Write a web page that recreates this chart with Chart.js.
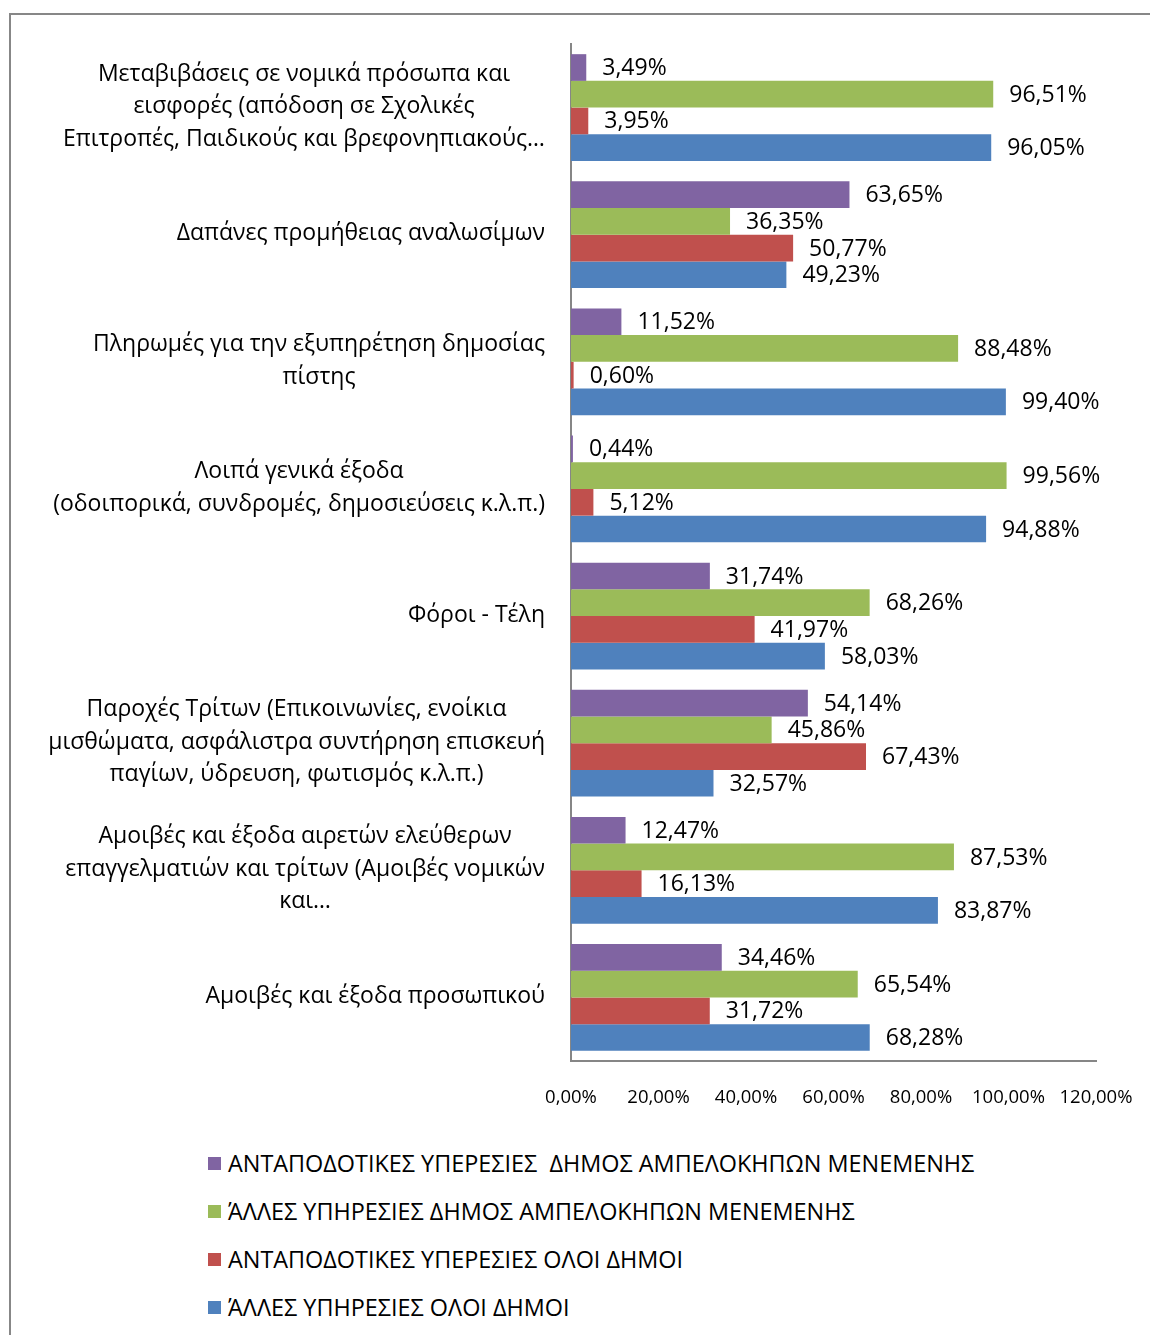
<!DOCTYPE html>
<html>
<head>
<meta charset="utf-8">
<title>Κατανομή δαπανών</title>
<script src="https://cdn.jsdelivr.net/npm/chart.js@4.4.1/dist/chart.umd.min.js"></script>
<style>
  html, body { margin: 0; padding: 0; background: #fff; overflow: hidden; }
  #page { position: relative; width: 1150px; height: 1335px; overflow: hidden; }
  #frame {
    position: absolute; left: 9px; top: 13px; width: 1300px; height: 1400px;
    border-left: 2px solid #878787; border-top: 2px solid #878787;
  }
  #chartBox { position: absolute; left: 0; top: 0; width: 1150px; height: 1130px; }
  #legend {
    position: absolute; left: 208px; top: 1139px;
    font-family: 'Open Sans', sans-serif; font-size: 23.4px; color: #000;
  }
  #legend .item { display: flex; align-items: center; height: 48px; white-space: pre; }
  #legend .box { width: 13px; height: 13px; margin-right: 7px; flex: none; }
</style>
</head>
<body>
<div id="page">
  <div id="frame"></div>
  <div id="chartBox"><canvas id="chartDapanes" width="1150" height="1130"></canvas></div>
  <div id="legend"></div>
</div>
<script>
// Κατηγορίες (από πάνω προς τα κάτω), σε γραμμές όπως στο πρωτότυπο
const categories = [
    ['Μεταβιβάσεις σε νομικά πρόσωπα και', 'εισφορές (απόδοση σε Σχολικές', 'Επιτροπές, Παιδικούς και βρεφονηπιακούς…'],
    ['Δαπάνες προμήθειας αναλωσίμων'],
    ['Πληρωμές για την εξυπηρέτηση δημοσίας', 'πίστης'],
    ['Λοιπά γενικά έξοδα', '(οδοιπορικά, συνδρομές, δημοσιεύσεις κ.λ.π.)'],
    ['Φόροι - Τέλη'],
    ['Παροχές Τρίτων (Επικοινωνίες, ενοίκια', 'μισθώματα, ασφάλιστρα συντήρηση επισκευή', 'παγίων, ύδρευση, φωτισμός κ.λ.π.)'],
    ['Αμοιβές και έξοδα αιρετών ελεύθερων', 'επαγγελματιών και τρίτων (Αμοιβές νομικών', 'και…'],
    ['Αμοιβές και έξοδα προσωπικού']
];

// Σειρές (τιμές σε %)
const antapodotikesAmpelokipon = [3.49, 63.65, 11.52, 0.44, 31.74, 54.14, 12.47, 34.46];
const allesAmpelokipon         = [96.51, 36.35, 88.48, 99.56, 68.26, 45.86, 87.53, 65.54];
const antapodotikesOloi        = [3.95, 50.77, 0.60, 5.12, 41.97, 67.43, 16.13, 31.72];
const allesOloi                = [96.05, 49.23, 99.40, 94.88, 58.03, 32.57, 83.87, 68.28];

const seriesNames = [
    'ΑΝΤΑΠΟΔΟΤΙΚΕΣ ΥΠΕΡΕΣΙΕΣ  ΔΗΜΟΣ ΑΜΠΕΛΟΚΗΠΩΝ ΜΕΝΕΜΕΝΗΣ',
    'ΆΛΛΕΣ ΥΠΗΡΕΣΙΕΣ ΔΗΜΟΣ ΑΜΠΕΛΟΚΗΠΩΝ ΜΕΝΕΜΕΝΗΣ',
    'ΑΝΤΑΠΟΔΟΤΙΚΕΣ ΥΠΕΡΕΣΙΕΣ ΟΛΟΙ ΔΗΜΟΙ',
    'ΆΛΛΕΣ ΥΠΗΡΕΣΙΕΣ ΟΛΟΙ ΔΗΜΟΙ'
];
const seriesColors = ['#8064A2', '#9BBB59', '#C0504D', '#4F81BD'];

// Άξονας τιμών
const xMin = 0;
const xMax = 120;
const xStep = 20;

const FONT = "'Open Sans', sans-serif";

function formatPct(v, decimals) {
    return v.toFixed(decimals).replace('.', ',') + '%';
}

// Ετικέτες τιμών δεξιά από κάθε μπάρα
const dataLabelsPlugin = {
    id: 'dataLabels',
    afterDatasetsDraw(chart) {
        const ctx = chart.ctx;
        ctx.save();
        ctx.font = '23px ' + FONT;
        ctx.fillStyle = '#000';
        ctx.textAlign = 'left';
        ctx.textBaseline = 'middle';
        chart.data.datasets.forEach((ds, di) => {
            const meta = chart.getDatasetMeta(di);
            meta.data.forEach((bar, i) => {
                ctx.fillText(formatPct(ds.data[i], 2), bar.x + 16, bar.y + 1);
            });
        });
        ctx.restore();
    }
};

// Ετικέτες κατηγοριών: μπλοκ στοιχισμένο δεξιά, γραμμές κεντραρισμένες
const categoryLabelsPlugin = {
    id: 'categoryLabels',
    afterDraw(chart) {
        const ctx = chart.ctx;
        const yScale = chart.scales.y;
        const rightEdge = chart.chartArea.left - 26;
        const lineH = 32.5;
        ctx.save();
        ctx.font = '23px ' + FONT;
        ctx.fillStyle = '#000';
        ctx.textAlign = 'center';
        ctx.textBaseline = 'middle';
        chart.data.labels.forEach((lines, i) => {
            const yc = yScale.getPixelForValue(i) - 1;
            const blockW = Math.max(...lines.map(l => ctx.measureText(l).width));
            const xc = rightEdge - blockW / 2;
            const y0 = yc - (lines.length - 1) * lineH / 2;
            lines.forEach((l, k) => ctx.fillText(l, xc, y0 + k * lineH));
        });
        ctx.restore();
    }
};

const datasets = [antapodotikesAmpelokipon, allesAmpelokipon, antapodotikesOloi, allesOloi].map((values, i) => ({
    label: seriesNames[i],
    data: values,
    backgroundColor: seriesColors[i],
    borderWidth: 0,
    barPercentage: 1.0,
    categoryPercentage: 0.84
}));

const canvas = document.getElementById('chartDapanes');
const chartDapanes = new Chart(canvas.getContext('2d'), {
    type: 'bar',
    data: { labels: categories, datasets: datasets },
    options: {
        indexAxis: 'y',
        responsive: false,
        animation: false,
        layout: { padding: { top: 44, right: 54, left: 0, bottom: 0 } },
        scales: {
            x: {
                min: xMin,
                max: xMax,
                grid: { display: false, drawTicks: false },
                border: { display: true, color: '#868686', width: 2 },
                ticks: {
                    stepSize: xStep,
                    padding: 26,
                    color: '#000',
                    font: { family: FONT, size: 18.5 },
                    maxRotation: 0,
                    callback: v => formatPct(v, 2)
                },
                afterFit: scale => {
                    scale.height = 69;
                    scale.paddingLeft = 0;
                    scale.paddingRight = 0;
                }
            },
            y: {
                grid: { display: false, drawTicks: false },
                border: { display: true, color: '#868686', width: 2 },
                ticks: { display: false },
                afterFit: scale => { scale.width = 571; }
            }
        },
        plugins: {
            legend: { display: false },
            tooltip: { enabled: false }
        }
    },
    plugins: [dataLabelsPlugin, categoryLabelsPlugin]
});

// Υπόμνημα (κάθετη λίστα κάτω από το γράφημα)
const legendEl = document.getElementById('legend');
seriesNames.forEach((name, i) => {
    const row = document.createElement('div');
    row.className = 'item';
    const box = document.createElement('span');
    box.className = 'box';
    box.style.background = seriesColors[i];
    const txt = document.createElement('span');
    txt.textContent = name;
    row.appendChild(box);
    row.appendChild(txt);
    legendEl.appendChild(row);
});
</script>
</body>
</html>
